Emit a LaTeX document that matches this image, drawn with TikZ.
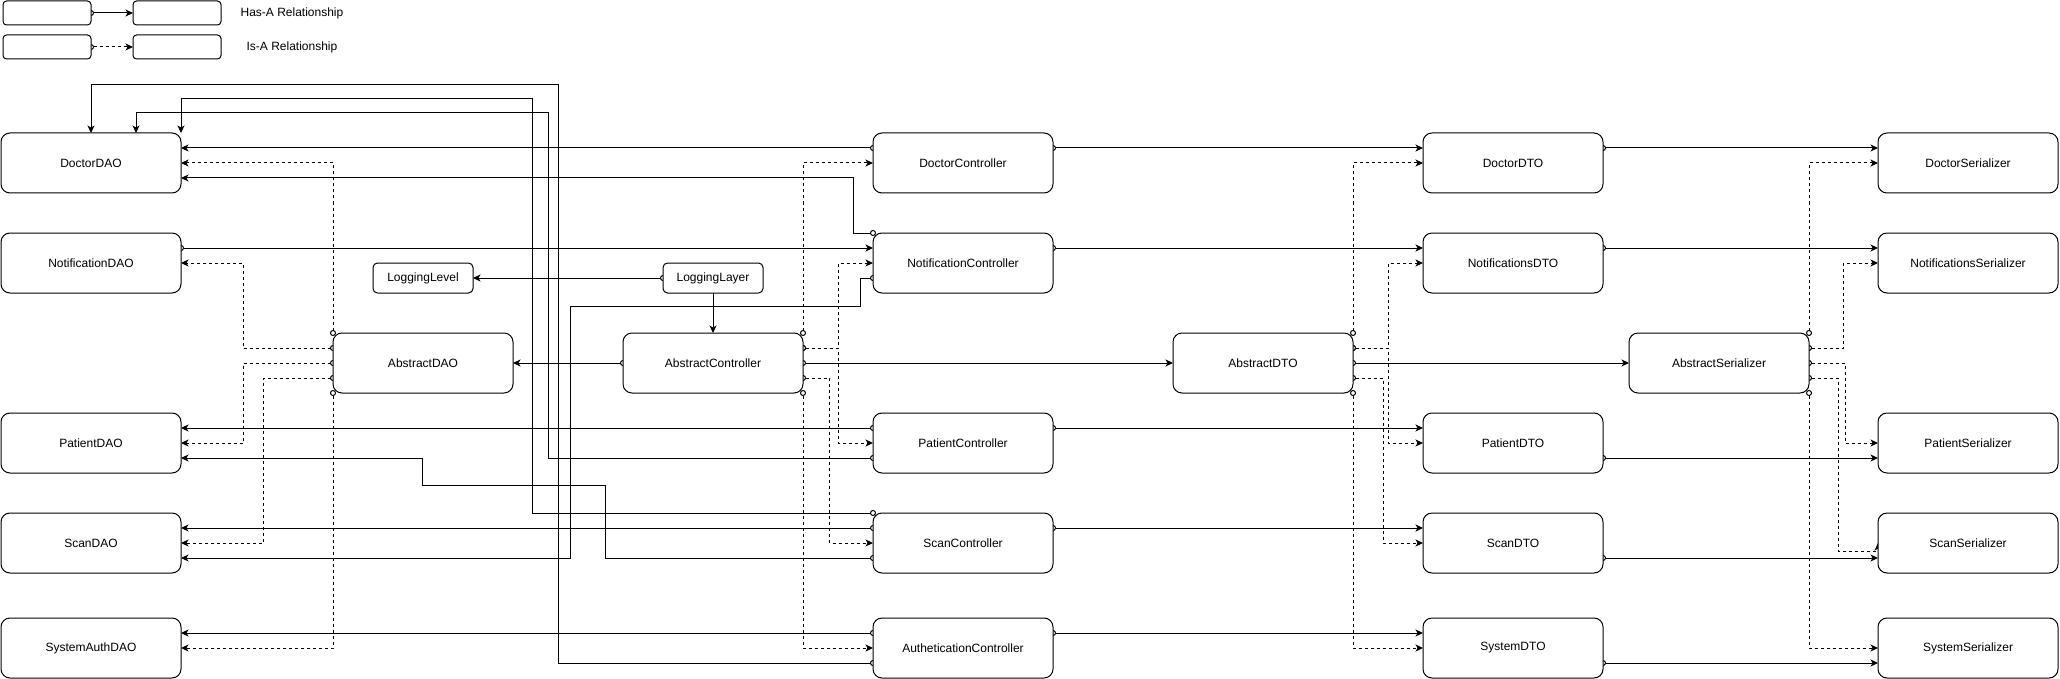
\documentclass[tikz,border=0pt]{standalone}
\usepackage{fontspec}
\setmainfont{Liberation Sans}
\usetikzlibrary{arrows.meta}
\pgfdeclarelayer{bg}
\pgfdeclarelayer{edges}
\pgfsetlayers{bg,edges,main}
\begin{document}
\begin{tikzpicture}[x=1pt,y=-1pt,
  box/.style={draw, line width=1pt, rounded corners=9pt, fill=white, minimum width=180pt, minimum height=60pt, inner sep=0pt, outer sep=0pt, font=\fontsize{12}{14}\selectfont},
  smallbox/.style={box, minimum width=100pt, minimum height=30pt, rounded corners=4.5pt},
  legbox/.style={box, minimum width=88pt, minimum height=24pt, rounded corners=3.6pt},
  lbl/.style={font=\fontsize{12}{14}\selectfont, inner sep=0pt},
  conn/.style={line width=1pt, -{Stealth[length=7.5pt,width=7pt,inset=2pt]}},
  has/.style={line width=1pt, {Circle[fill=white,length=6pt,width=6pt]}-{Stealth[length=7.5pt,width=7pt,inset=2pt]}, shorten <=-3pt},
  isa/.style={has, dash pattern=on 3pt off 3pt},
]
\begin{pgfonlayer}{bg}
\fill[white] (0,0) rectangle (2060,679);
\end{pgfonlayer}
\useasboundingbox (0,0) rectangle (2060,679);

% legend
\node[legbox] (LA1) at (47,13) {};
\node[legbox] (LA2) at (177,13) {};
\node[lbl] (LAt) at (292,13) {Has-A Relationship};
\node[legbox] (LB1) at (47,47) {};
\node[legbox] (LB2) at (177,47) {};
\node[lbl] (LBt) at (292,47) {Is-A Relationship};

% DAO column
\node[box] (DocDAO) at (91,163) {DoctorDAO};
\node[box] (NotDAO) at (91,263) {NotificationDAO};
\node[box] (PatDAO) at (91,443) {PatientDAO};
\node[box] (ScanDAO) at (91,543) {ScanDAO};
\node[box] (SysDAO) at (91,648) {SystemAuthDAO};
\node[box] (AbsDAO) at (423,363) {AbstractDAO};
\node[smallbox] (LogLevel) at (423,278) {LoggingLevel};
\node[smallbox] (LogLayer) at (713,278) {LoggingLayer};
\node[box] (AbsCtrl) at (713,363) {AbstractController};

% controllers
\node[box] (DocCtrl) at (963,163) {DoctorController};
\node[box] (NotCtrl) at (963,263) {NotificationController};
\node[box] (PatCtrl) at (963,443) {PatientController};
\node[box] (ScanCtrl) at (963,543) {ScanController};
\node[box] (AuthCtrl) at (963,648) {AutheticationController};

% DTOs
\node[box] (AbsDTO) at (1263,363) {AbstractDTO};
\node[box] (DocDTO) at (1513,163) {DoctorDTO};
\node[box] (NotDTO) at (1513,263) {NotificationsDTO};
\node[box] (PatDTO) at (1513,443) {PatientDTO};
\node[box] (ScanDTO) at (1513,543) {ScanDTO};
\node[box] (SysDTO) at (1513,648) {SystemDTO};

% serializers
\node[box] (AbsSer) at (1719,363) {AbstractSerializer};
\node[box] (DocSer) at (1968,163) {DoctorSerializer};
\node[box] (NotSer) at (1968,263) {NotificationsSerializer};
\node[box] (PatSer) at (1968,443) {PatientSerializer};
\node[box] (ScanSer) at (1968,543) {ScanSerializer};
\node[box] (SysSer) at (1968,648) {SystemSerializer};

\begin{pgfonlayer}{edges}
% legend
\draw[has] (LA1.east) -- (LA2.west);
\draw[isa] (LB1.east) -- (LB2.west);

% ---- has-a, left part
\draw[has] ([yshift=15pt]DocCtrl.west) -- ([yshift=15pt]DocDAO.east);
\draw[has] (NotCtrl.north west) -- ++(-20,0) |- ([yshift=-15pt]DocDAO.east);
\draw[has] ([yshift=-15pt]AuthCtrl.west) -| (558,85) -| (DocDAO.north);
\draw[has] (ScanCtrl.north west) -| (532.5,99) -| (DocDAO.north east);
\draw[has] ([yshift=-15pt]PatCtrl.west) -| (548,113) -| ([xshift=45pt]DocDAO.north);
\draw[has] ([yshift=15pt]NotDAO.east) -- ([yshift=15pt]NotCtrl.west);
\draw[has] ([yshift=-15pt]NotCtrl.west) -- ++(-13,0) |- (570,306.5) |- ([yshift=-15pt]ScanDAO.east);
\draw[has] (AbsCtrl.west) -- (AbsDAO.east);
\draw[has] ([yshift=15pt]PatCtrl.west) -- ([yshift=15pt]PatDAO.east);
\draw[has] ([yshift=-15pt]ScanCtrl.west) -| (605,485) -- (422,485) |- ([yshift=-15pt]PatDAO.east);
\draw[has] ([yshift=15pt]ScanCtrl.west) -- ([yshift=15pt]ScanDAO.east);
\draw[has] ([yshift=15pt]AuthCtrl.west) -- ([yshift=15pt]SysDAO.east);
\draw[has] (LogLayer.west) -- (LogLevel.east);
\draw[conn] (LogLayer.south) -- (AbsCtrl.north);

% ---- has-a, right part
\draw[has] (AbsCtrl.east) -- (AbsDTO.west);
\draw[has] ([yshift=15pt]DocCtrl.east) -- ([yshift=15pt]DocDTO.west);
\draw[has] ([yshift=15pt]NotCtrl.east) -- ([yshift=15pt]NotDTO.west);
\draw[has] ([yshift=15pt]PatCtrl.east) -- ([yshift=15pt]PatDTO.west);
\draw[has] ([yshift=15pt]ScanCtrl.east) -- ([yshift=15pt]ScanDTO.west);
\draw[has] ([yshift=15pt]AuthCtrl.east) -- ([yshift=15pt]SysDTO.west);
\draw[has] (AbsDTO.east) -- (AbsSer.west);
\draw[has] ([yshift=15pt]DocDTO.east) -- ([yshift=15pt]DocSer.west);
\draw[has] ([yshift=15pt]NotDTO.east) -- ([yshift=15pt]NotSer.west);
\draw[has] ([yshift=-15pt]PatDTO.east) -- ([yshift=-15pt]PatSer.west);
\draw[has] ([yshift=-15pt]ScanDTO.east) -- ([yshift=-15pt]ScanSer.west);
\draw[has] ([yshift=-15pt]SysDTO.east) -- ([yshift=-15pt]SysSer.west);

% ---- is-a, DAO
\draw[isa] (AbsDAO.north west) |- (DocDAO.east);
\draw[isa] ([yshift=15pt]AbsDAO.west) -| (243,263) -- (NotDAO.east);
\draw[isa] (AbsDAO.west) -| (243,443) -- (PatDAO.east);
\draw[isa] ([yshift=-15pt]AbsDAO.west) -| (263,543) -- (ScanDAO.east);
\draw[isa] (AbsDAO.south west) |- (SysDAO.east);

% ---- is-a, controllers
\draw[isa] (AbsCtrl.north east) |- (DocCtrl.west);
\draw[isa] ([yshift=15pt]AbsCtrl.east) -| (838,263) -- (NotCtrl.west);
\draw[isa] ([yshift=15pt]AbsCtrl.east) -| (838,443) -- (PatCtrl.west);
\draw[isa] ([yshift=-15pt]AbsCtrl.east) -| (829.5,543) -- (ScanCtrl.west);
\draw[isa] (AbsCtrl.south east) |- (AuthCtrl.west);

% ---- is-a, DTOs
\draw[isa] (AbsDTO.north east) |- (DocDTO.west);
\draw[isa] ([yshift=15pt]AbsDTO.east) -| (1388,263) -- (NotDTO.west);
\draw[isa] ([yshift=15pt]AbsDTO.east) -| (1388,443) -- (PatDTO.west);
\draw[isa] ([yshift=-15pt]AbsDTO.east) -| (1383,543) -- (ScanDTO.west);
\draw[isa] (AbsDTO.south east) |- (SysDTO.west);

% ---- is-a, serializers
\draw[isa] (AbsSer.north east) |- (DocSer.west);
\draw[isa] ([yshift=15pt]AbsSer.east) -| (1843,263) -- (NotSer.west);
\draw[isa] (AbsSer.east) -| (1845,443) -- (PatSer.west);
\draw[isa] ([yshift=-15pt]AbsSer.east) -| (1838,551) -| (ScanSer.west);
\draw[isa] (AbsSer.south east) |- (SysSer.west);
\end{pgfonlayer}
\end{tikzpicture}
\end{document}
